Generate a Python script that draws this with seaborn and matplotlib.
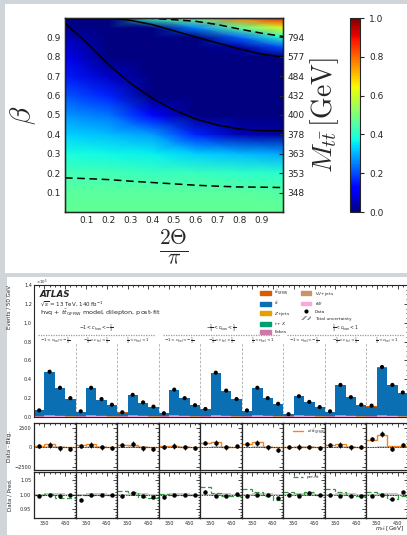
import numpy as np
import pandas as pd
import matplotlib
matplotlib.use("Agg")
import matplotlib.pyplot as plt
import seaborn as sns
from matplotlib.patches import Rectangle, Patch
from matplotlib.lines import Line2D
from matplotlib.ticker import MultipleLocator, FixedLocator

# ---------------- data: top chart (field) ----------------
theta_cols = [0.0, 0.2, 0.4, 0.6, 0.8, 1.0]
beta_rows = [0.0, 0.1, 0.2, 0.3, 0.4, 0.5, 0.6, 0.7, 0.8, 0.85, 0.9, 0.95, 1.0]
field_th00 = [.47, .46, .43, .38, .33, .27, .21, .15, .10, .075, .05, .015, 0]
field_th02 = [.47, .46, .43, .37, .31, .24, .16, .06, 0, 0, 0, 0, 0]
field_th04 = [.47, .46, .42, .36, .28, .13, 0, 0, 0, 0, 0, 0, .42]
field_th06 = [.47, .46, .42, .33, .16, 0, 0, 0, 0, 0, 0, .25, .51]
field_th08 = [.47, .46, .41, .31, .05, 0, 0, 0, 0, .03, .22, .46, .78]
field_th10 = [.47, .45, .40, .29, .03, 0, 0, 0, 0, .20, .40, .62, .88]

solid_lo_x = [0, .1, .2, .3, .4, .5, .6, .7, .8, .9, 1.0]
solid_lo_b = [.974, .871, .759, .664, .586, .526, .479, .448, .428, .419, .419]
solid_hi_x = [.2, .3, .4, .5, .6, .7, .8, .9, 1.0]
solid_hi_b = [1.0, .988, .966, .934, .902, .871, .840, .814, .798]
dash_hi_x = [.374, .5, .6, .7, .8, .9, 1.0]
dash_hi_b = [1.0, .991, .983, .966, .943, .922, .905]
dash_lo_x = [0, .1, .2, .3, .4, .5, .6, .7, .8, .9, 1.0]
dash_lo_b = [.176, .172, .167, .159, .152, .145, .138, .133, .129, .128, .126]

xticks_top = [0.1, 0.2, 0.3, 0.4, 0.5, 0.6, 0.7, 0.8, 0.9]
yticks_top = [0.1, 0.2, 0.3, 0.4, 0.5, 0.6, 0.7, 0.8, 0.9]
mtt_labels = ["348", "353", "363", "378", "400", "432", "484", "577", "794"]
cbar_ticks = [0.0, 0.2, 0.4, 0.6, 0.8, 1.0]

# ---------------- data: bottom chart (ATLAS-style) ----------------
han_labels = [r"$-1 < c_{\rm han} < -\frac{1}{3}$", r"$-\frac{1}{3} < c_{\rm han} < \frac{1}{3}$",
              r"$\frac{1}{3} < c_{\rm han} < 1$"]
hel_labels = [r"$-1 < c_{\rm hel} < -\frac{1}{3}$", r"$-\frac{1}{3} < c_{\rm hel} < \frac{1}{3}$",
              r"$\frac{1}{3} < c_{\rm hel} < 1$"]
mtt_bin_edges = [300, 350, 400, 450, 500]
mtt_ticks = [350, 450]

data_events = [.07, .48, .31, .20,  .06, .31, .19, .13,  .05, .235, .155, .11,
               .04, .29, .20, .125, .085, .47, .28, .19,  .07, .31, .20, .14,
               .03, .22, .16, .105, .06, .34, .21, .13,  .12, .53, .34, .26]
pred_total = [.07, .48, .305, .195, .058, .31, .185, .13, .05, .235, .152, .108,
              .04, .29, .197, .124, .085, .47, .28, .19, .068, .31, .198, .14,
              .03, .22, .16, .105, .058, .34, .21, .13, .12, .535, .34, .255]
tw_bkg = [.003, .012, .010, .004] * 9
vv_bkg = [.002, .004, .003, .002] * 9
fakes_bkg = [.001, .002, .002, .001] * 9
tx_bkg = [.001, .002, .002, .001] * 9
z_bkg = [.001, .002, .002, .001] * 9
gfrw_sig = [.001, .004, 0, 0,  .003, .004, 0, 0,  .0035, .0035, 0, 0,
            .001, .0013, 0, 0,  .005, .007, 0, 0,  .004, .0065, .001, 0,
            .0005, .0005, 0, 0,  .003, .004, 0, 0,  .0095, .016, .0013, .0013]

data_minus_bkg = [130, 350, -130, -200,  200, 350, 0, -100,  260, 430, -130, -170,
                  0, 130, 0, -100,  520, 600, 0, 100,  430, 600, 0, -300,
                  0, 0, 50, -100,  260, 350, 0, 0,  1030, 1640, -200, 260]
dmb_err = [250, 380, 300, 250] * 9
sig_line = [100, 430, 0, 0,  300, 430, 0, 0,  350, 350, 0, 0,
            100, 130, 0, 0,  520, 730, 0, 0,  430, 650, 90, 0,
            50, 50, 0, 0,  300, 430, 0, 0,  950, 1590, 130, 130]
bkg_unc = [60, 150, 130, 60] * 9

ratio = [.996, 1.0, .996, 1.0,  .982, 1.0, 1.0, 1.0,  .994, 1.006, .994, .992,
         .992, 1.0, 1.0, 1.0,  1.009, .994, .994, 1.002,  .996, 1.0, 1.0, .988,
         1.0, .996, 1.006, .998,  1.0, .996, .996, .996,  .996, 1.0, .986, 1.008]
ratio_err = [.006, .002, .002, .003] * 9
prefit = [1.0, 1.002, .988, .988,  1.0, 1.0, 1.0, 1.0,  1.014, 1.008, .992, .988,
          1.002, 1.0, 1.0, 1.0,  1.026, 1.006, .994, .994,  1.02, 1.008, .996, .982,
          1.009, 1.002, 1.008, 1.0,  1.02, 1.008, .994, .994,  1.008, 1.002, .985, .994]
ratio_unc = [.003, .004, .004, .003] * 9

comp_names = ["ttGFRW", "tt", "Zjets", "tX", "Fakes", "VV", "tW"]
comp_colors = {"ttGFRW": "#D55E00", "tt": "#0A6FB3", "Zjets": "#E69F00", "tX": "#009E73",
               "Fakes": "#CC79A7", "VV": "#C8946A", "tW": "#F7A8DC"}

# ---------------- figure ----------------
sns.set_style("white")
plt.rcParams["font.family"] = ["DejaVu Sans"]
plt.rcParams["mathtext.fontset"] = "dejavusans"

W, H = 407, 535
fig = plt.figure(figsize=(W / 100, H / 100), dpi=100)
fig.patch.set_facecolor("#d0d5da")


def fr(x0, y0, x1, y1):
    return [x0 / W, 1 - y1 / H, (x1 - x0) / W, (y1 - y0) / H]


fig.add_artist(Rectangle((5 / W, 1 - 273 / H), (W - 5) / W, 269 / H, transform=fig.transFigure,
                         facecolor="white", edgecolor="none", zorder=-5))
fig.add_artist(Rectangle((7 / W, 0), (W - 7) / W, 1 - 277 / H, transform=fig.transFigure,
                         facecolor="white", edgecolor="none", zorder=-5))

# ---------- top chart ----------
ax = fig.add_axes(fr(65, 18, 283, 212))
Z = np.array([field_th00, field_th02, field_th04, field_th06, field_th08, field_th10]).T
mesh = ax.pcolormesh(theta_cols, beta_rows, Z, shading="gouraud", cmap="jet", vmin=0, vmax=1)
ax.plot(solid_lo_x, solid_lo_b, color="black", lw=1.1)
ax.plot(solid_hi_x, solid_hi_b, color="black", lw=1.1)
ax.plot(dash_hi_x, dash_hi_b, color="black", lw=1.1, ls=(0, (5, 3)))
ax.plot(dash_lo_x, dash_lo_b, color="black", lw=1.1, ls=(0, (5, 3)))
ax.set_xlim(0, 1)
ax.set_ylim(0, 1)
ax.set_xticks(xticks_top)
ax.set_yticks(yticks_top)
ax.tick_params(direction="in", length=3, width=0.8, labelsize=6.5, top=True, pad=3)
for s in ax.spines.values():
    s.set_linewidth(1.0)
    s.set_color("black")
ax.set_ylabel(r"$\beta$", fontsize=21, math_fontfamily="cm", labelpad=6)
ax.set_xlabel(r"$\frac{2\Theta}{\pi}$", fontsize=22, math_fontfamily="cm", labelpad=2)
ax2 = ax.twinx()
ax2.set_ylim(0, 1)
ax2.set_yticks(yticks_top)
ax2.set_yticklabels(mtt_labels)
ax2.tick_params(direction="in", length=3, width=0.8, labelsize=6.5, pad=3)
ax2.set_ylabel(r"$M_{t\bar{t}}\,[\mathrm{GeV}]$", fontsize=20, math_fontfamily="cm", labelpad=3)
cax = fig.add_axes(fr(350, 18, 360, 212))
cb = fig.colorbar(mesh, cax=cax, ticks=cbar_ticks)
cb.ax.tick_params(direction="out", length=3, width=0.8, labelsize=6.5)
cb.outline.set_linewidth(0.8)

# ---------- bottom chart ----------
XL, XR = 34, 408
reg_w = (XR - XL) / 9
edges = np.arange(0, 1801, 50)
centers = edges[:-1] + 25

others = np.array(tw_bkg) + np.array(vv_bkg) + np.array(fakes_bkg) + np.array(tx_bkg) + np.array(z_bkg)
tt_part = np.array(pred_total) - others - np.array(gfrw_sig)
comp_vals = {"ttGFRW": gfrw_sig, "tt": tt_part, "Zjets": z_bkg, "tX": tx_bkg,
             "Fakes": fakes_bkg, "VV": vv_bkg, "tW": tw_bkg}
df = pd.DataFrame({
    "x": np.tile(centers, len(comp_names)).astype(float),
    "w": np.concatenate([np.asarray(comp_vals[c], float) for c in comp_names]),
    "comp": np.repeat(comp_names, len(centers)),
})

am = fig.add_axes(fr(XL, 285, XR, 417))
sns.histplot(data=df, x="x", weights="w", hue="comp", hue_order=comp_names, palette=comp_colors,
             binwidth=50, binrange=(0, 1800), multiple="stack", element="bars", linewidth=0,
             alpha=1, legend=False, ax=am)
sns.scatterplot(x=centers, y=data_events, color="black", s=9, edgecolor="none", zorder=5, ax=am)
am.set_xlim(0, 1800)
am.set_ylim(0, 1.4)
am.set_xlabel("")
am.set_ylabel("Events / 50 GeV", fontsize=4, loc="top")
am.yaxis.set_label_coords(-(XL - 12) / (XR - XL), 1.0)
am.yaxis.set_major_locator(MultipleLocator(0.2))
am.yaxis.set_minor_locator(MultipleLocator(0.05))
am.yaxis.set_major_formatter(matplotlib.ticker.FormatStrFormatter("%.1f"))
am.xaxis.set_major_locator(FixedLocator([r * 200 + t - 300 for r in range(9) for t in mtt_ticks]))
am.xaxis.set_minor_locator(MultipleLocator(25))
am.tick_params(which="both", direction="in", top=True, right=True, labelsize=3.6, width=0.6,
               labelbottom=False, pad=1.5)
am.tick_params(which="major", length=3)
am.tick_params(which="minor", length=1.6)
for s in am.spines.values():
    s.set_linewidth(0.8)
for b in range(1, 9):
    am.vlines(b * 200, 0, 0.78, colors="#aaaaaa", linestyles=(0, (3, 2)), lw=0.6, zorder=0.5)
for g in range(3):
    am.hlines(0.872, g * 600 + 20, g * 600 + 582, colors="#9a9a9a", linestyles=(0, (1, 1)), lw=0.9)
    am.text(g * 600 + 300, 0.945, han_labels[g], fontsize=3.3, ha="center", va="center")
for r in range(9):
    am.text(r * 200 + 100, 0.80, hel_labels[r % 3], fontsize=3.0, ha="center", va="center")
am.text(0.016, 0.925, "ATLAS", transform=am.transAxes, fontsize=6.3, fontweight="bold",
        fontstyle="italic", va="center")
am.text(0.016, 0.857, r"$\sqrt{s}$ = 13 TeV, 140 fb$^{-1}$", transform=am.transAxes, fontsize=4.0,
        va="center")
am.text(0.016, 0.79, r"hvq + $t\bar{t}_{\rm GFRW}$ model, dilepton, post-fit", transform=am.transAxes,
        fontsize=4.6, va="center")
fig.text(36 / W, 1 - 282 / H, r"$\times10^{5}$", fontsize=2.8, va="center")

handles = [Patch(color=comp_colors["ttGFRW"], label=r"$t\bar{t}_{\rm GFRW}$"),
           Patch(color=comp_colors["tt"], label=r"$t\bar{t}$"),
           Patch(color=comp_colors["Zjets"], label=r"$Z$+jets"),
           Patch(color=comp_colors["tX"], label=r"$t+X$"),
           Patch(color=comp_colors["Fakes"], label="Fakes"),
           Patch(color=comp_colors["VV"], label=r"$VV$+jets"),
           Patch(color=comp_colors["tW"], label=r"$tW$"),
           Line2D([], [], color="black", marker="o", ms=2, lw=0, label="Data"),
           Patch(facecolor="white", edgecolor="#888888", hatch="//////", lw=0, label="Total uncertainty")]
leg = am.legend(handles=handles, ncol=2, loc="upper left", bbox_to_anchor=(0.6, 0.985),
                fontsize=3.2, frameon=False, handlelength=2.4, handleheight=1.0,
                columnspacing=2.2, labelspacing=0.55, borderaxespad=0)

for r in range(9):
    xa = XL + r * reg_w
    sl = slice(4 * r, 4 * r + 4)
    locc = [325, 375, 425, 475]
    # Data - Bkg
    ad = fig.add_axes(fr(xa, 423, xa + reg_w, 470))
    unc = np.array(bkg_unc[sl], float)
    ad.stairs(unc, mtt_bin_edges, baseline=-unc, fill=True, facecolor="#c8c8c8", edgecolor="none",
              hatch="//////")
    ad.axhline(0, color="black", ls=(0, (1, 1)), lw=0.6)
    ad.stairs(sig_line[sl], mtt_bin_edges, color="#F28522", lw=1.0, baseline=None)
    ad.errorbar(locc, data_minus_bkg[sl], yerr=dmb_err[sl], fmt="o", color="black", ms=2.2,
                elinewidth=0.6, capsize=0, zorder=5)
    ad.set_xlim(300, 500)
    ad.set_ylim(-2900, 3100)
    ad.set_xticks(mtt_ticks)
    ad.xaxis.set_minor_locator(MultipleLocator(25))
    ad.set_yticks([-2500, 0, 2500])
    ad.yaxis.set_minor_locator(MultipleLocator(500))
    ad.tick_params(which="both", direction="in", top=True, right=True, labelsize=3.6, width=0.6,
                   labelbottom=False, labelleft=(r == 0), pad=1.5)
    ad.tick_params(which="major", length=3)
    ad.tick_params(which="minor", length=1.6)
    for s in ad.spines.values():
        s.set_linewidth(0.9)
    if r == 0:
        ad.set_yticklabels(["\u22122500", "0", "2500"])
        ad.set_ylabel("Data - Bkg.", fontsize=4)
        ad.yaxis.set_label_coords(-(XL - 12) / reg_w, 0.5)
    if r == 6:
        ad.legend(handles=[Line2D([], [], color="#F28522", lw=1.0,
                                  label=r"$\sigma(t\bar{t}_{\rm GFRW})$ = 9.3$^{+1.5}_{-1.5}$ pb")],
                  loc="upper left", bbox_to_anchor=(0.2, 0.97), fontsize=3.0, frameon=False,
                  handlelength=2.4, borderaxespad=0)
    # Data / Pred
    ar = fig.add_axes(fr(xa, 472, xa + reg_w, 518))
    ru = np.array(ratio_unc[sl], float)
    ar.stairs(1 + ru, mtt_bin_edges, baseline=1 - ru, fill=True, facecolor="#c8c8c8",
              edgecolor="none")
    ar.axhline(1, color="black", ls=(0, (1, 1)), lw=0.6)
    ar.stairs(prefit[sl], mtt_bin_edges, color="#2E9A3A", lw=0.9, ls=(0, (4, 2)), baseline=None)
    ar.errorbar(locc, ratio[sl], yerr=ratio_err[sl], fmt="o", color="black", ms=2.2,
                elinewidth=0.6, capsize=0, zorder=5)
    ar.set_xlim(300, 500)
    ar.set_ylim(0.918, 1.079)
    ar.set_xticks(mtt_ticks)
    ar.xaxis.set_minor_locator(MultipleLocator(25))
    ar.set_yticks([0.95, 1.0, 1.05])
    ar.yaxis.set_minor_locator(MultipleLocator(0.01))
    ar.tick_params(which="both", direction="in", top=True, right=True, labelsize=3.6, width=0.6,
                   labelleft=(r == 0), pad=2)
    ar.tick_params(which="major", length=3)
    ar.tick_params(which="minor", length=1.6)
    for s in ar.spines.values():
        s.set_linewidth(0.9)
    if r == 0:
        ar.set_yticklabels(["0.95", "1.00", "1.05"])
        ar.set_ylabel("Data / Pred.", fontsize=4)
        ar.yaxis.set_label_coords(-(XL - 12) / reg_w, 0.5)
    if r == 6:
        ar.legend(handles=[Line2D([], [], color="#2E9A3A", lw=0.9, ls=(0, (4, 2)), label="pre-fit")],
                  loc="upper left", bbox_to_anchor=(0.2, 0.97), fontsize=3.0, frameon=False,
                  handlelength=2.4, borderaxespad=0)

fig.text(404 / W, 1 - 529 / H, r"$m_{t\bar{t}}$ [GeV]", fontsize=4.2, ha="right", va="center")

fig.savefig("out.png", dpi=100)
